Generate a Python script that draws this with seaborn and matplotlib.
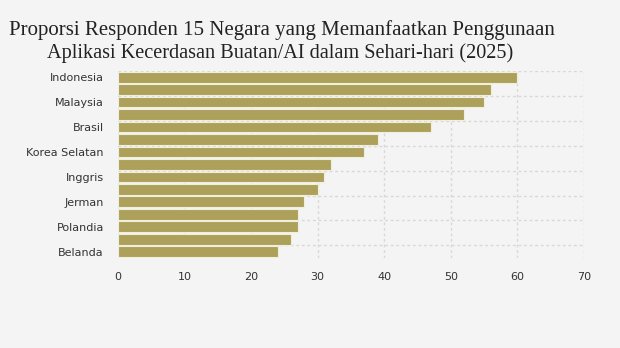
import matplotlib
matplotlib.use("Agg")
import matplotlib.pyplot as plt
import seaborn as sns
import pandas as pd
import numpy as np

countries = ["Indonesia", "Thailand", "Malaysia", "Filipina", "Brasil", "Singapura",
             "Korea Selatan", "Amerika Serikat", "Inggris", "Australia", "Jerman",
             "Prancis", "Polandia", "Italia", "Belanda"]
values = [60, 56, 55, 52, 47, 39, 37, 32, 31, 30, 28, 27, 27, 26, 24]
shown_labels = ["Indonesia", "Malaysia", "Brasil", "Korea Selatan", "Inggris",
                "Jerman", "Polandia", "Belanda"]
x_ticks = [0, 10, 20, 30, 40, 50, 60, 70]

df = pd.DataFrame({"negara": countries, "persen": values})

sns.set_style("white")
bg = "#f4f4f4"
fig = plt.figure(figsize=(6.2, 3.48), dpi=100, facecolor=bg)
ax = fig.add_axes([0.19, 0.259, 0.752, 0.537])
ax.set_facecolor(bg)

sns.barplot(data=df, y="negara", x="persen", order=countries, color="#ada05a",
            saturation=1, width=0.86, edgecolor="#f0eedc", linewidth=0.8, ax=ax, zorder=3)

ax.set_xlim(0, 70)
ax.set_ylim(len(countries) - 0.5, -0.5)
ax.set_xticks(x_ticks)
ax.set_xticklabels([str(t) for t in x_ticks])
pos = [countries.index(c) for c in shown_labels]
ax.set_yticks(pos)
ax.set_yticklabels(shown_labels)
ax.set_yticks([i + 0.5 for i in range(-1, 14, 2)], minor=True)

ax.grid(False)
ax.xaxis.grid(True, which="major", color="#d8d8d8", linestyle=(0, (2, 2)), linewidth=1, zorder=0)
ax.yaxis.grid(True, which="minor", color="#d8d8d8", linestyle=(0, (2, 2)), linewidth=1, zorder=0)
ax.set_axisbelow(True)

ax.tick_params(axis="x", length=0, pad=10, labelsize=8, labelcolor="#333333")
ax.tick_params(axis="y", which="major", length=4, width=2, color="#e2e2e2", pad=6,
               labelsize=8, labelcolor="#333333")
ax.tick_params(axis="y", which="minor", length=0)
for s in ax.spines.values():
    s.set_visible(False)
ax.set_xlabel("")
ax.set_ylabel("")

fig.text(0.455, 0.913, "Proporsi Responden 15 Negara yang Memanfaatkan Penggunaan",
         ha="center", va="center", fontsize=15, family="Liberation Serif", color="#222222")
fig.text(0.452, 0.846, "Aplikasi Kecerdasan Buatan/AI dalam Sehari-hari (2025)",
         ha="center", va="center", fontsize=14.6, family="Liberation Serif", color="#222222")

fig.savefig("out.png", dpi=100, facecolor=bg)
